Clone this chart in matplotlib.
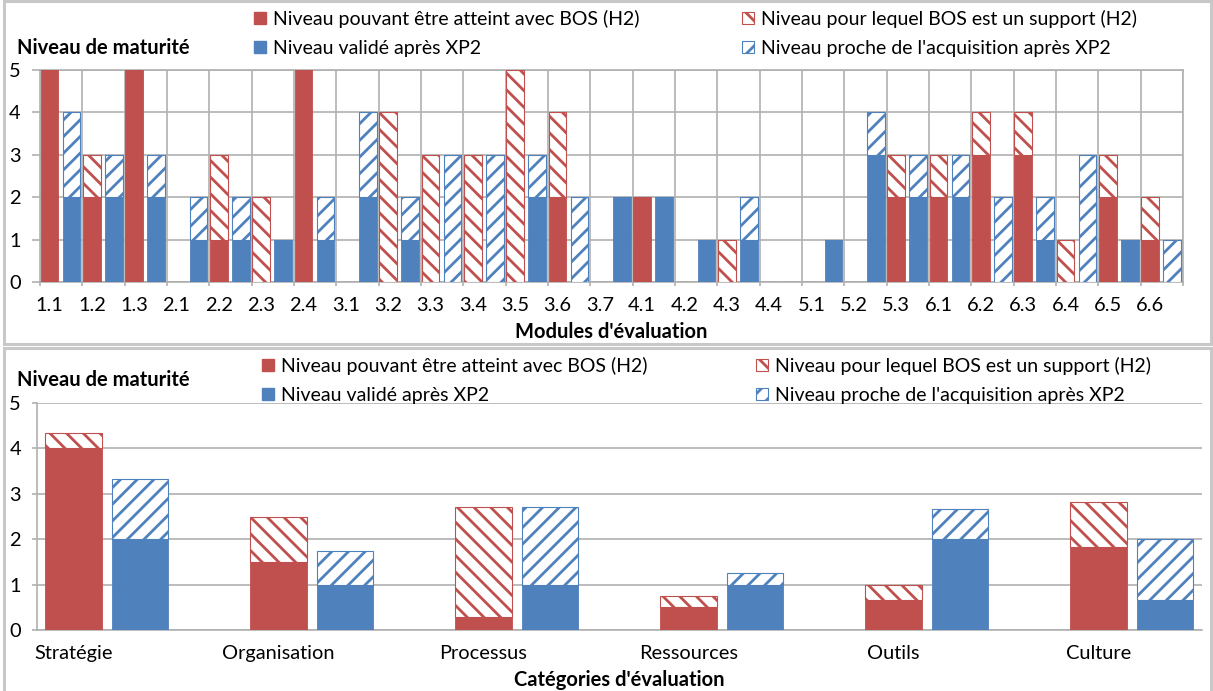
import matplotlib
matplotlib.use('Agg')
import matplotlib.pyplot as plt
from matplotlib.patches import Patch, Rectangle
import numpy as np

plt.rcParams['font.family'] = ['Lato', 'DejaVu Sans']
plt.rcParams['hatch.linewidth'] = 2.0

RED = '#C0504D'
BLUE = '#4F81BD'
GRID = '#B0B0B0'
FRAME = '#C8C8C8'

# ---------------- data: modules (top chart) ----------------
modules = ['1.1', '1.2', '1.3', '2.1', '2.2', '2.3', '2.4', '3.1', '3.2', '3.3',
           '3.4', '3.5', '3.6', '3.7', '4.1', '4.2', '4.3', '4.4', '5.1', '5.2',
           '5.3', '6.1', '6.2', '6.3', '6.4', '6.5', '6.6']
red_valid = [5, 2, 5, 0, 1, 0, 5, 0, 0, 0, 0, 0, 2, 0, 2, 0, 0, 0, 0, 0, 2, 2, 3, 3, 0, 2, 1]
red_support = [0, 1, 0, 0, 2, 2, 0, 0, 4, 3, 3, 5, 2, 0, 0, 0, 1, 0, 0, 0, 1, 1, 1, 1, 1, 1, 1]
blue_valid = [2, 2, 2, 1, 1, 1, 1, 2, 1, 0, 0, 2, 0, 2, 2, 1, 1, 0, 1, 3, 2, 2, 0, 1, 0, 1, 0]
blue_close = [2, 1, 1, 1, 1, 0, 1, 2, 1, 3, 3, 1, 2, 0, 0, 0, 1, 0, 0, 1, 1, 1, 2, 1, 3, 0, 1]

# ---------------- data: categories (bottom chart) ----------------
categories = ['Stratégie', 'Organisation', 'Processus', 'Ressources', 'Outils', 'Culture']
cat_red_valid = [4.0, 1.5, 0.29, 0.5, 0.67, 1.83]
cat_red_support = [0.33, 1.0, 2.42, 0.25, 0.33, 1.0]
cat_blue_valid = [2.0, 1.0, 1.0, 1.0, 2.0, 0.67]
cat_blue_close = [1.33, 0.75, 1.71, 0.25, 0.67, 1.33]

leg_red_valid = 'Niveau pouvant être atteint avec BOS (H2)'
leg_blue_valid = 'Niveau validé après XP2'
leg_red_support = 'Niveau pour lequel BOS est un support (H2)'
leg_blue_close = "Niveau proche de l'acquisition après XP2"

W, H = 1213, 691
fig = plt.figure(figsize=(W / 100, H / 100), dpi=100)


def px_axes(l, t, r, b):
    return fig.add_axes([l / W, 1 - b / H, (r - l) / W, (b - t) / H])


def fx(x):
    return x / W


def fy(y):
    return 1 - y / H


FS = 14.4
FSL = 14.0
FSB = 14.5

# frames
fig.add_artist(Rectangle((fx(3.5), fy(344.5)), fx(1211) - fx(3.5), fy(1.5) - fy(344.5),
                         transform=fig.transFigure, fill=False, ec=FRAME, lw=2.2))
fig.add_artist(Rectangle((fx(3.5), fy(693)), fx(1211) - fx(3.5), fy(347.5) - fy(693),
                         transform=fig.transFigure, fill=False, ec=FRAME, lw=2.2))


def draw_pair(ax, x, rv, rs, bv, bc, off, w):
    xr = np.asarray(x, dtype=float)
    xb = xr + off
    ax.bar(xr, rv, w, color=RED, edgecolor=RED, lw=0.6, zorder=3)
    ax.bar(xr, rs, w, bottom=rv, facecolor='white', edgecolor=RED, hatch='\\\\', lw=0.8, zorder=3)
    ax.bar(xb, bv, w, color=BLUE, edgecolor=BLUE, lw=0.6, zorder=3)
    ax.bar(xb, bc, w, bottom=bv, facecolor='white', edgecolor=BLUE, hatch='//', lw=0.8, zorder=3)


h_rv = Patch(facecolor=RED, edgecolor=RED)
h_bv = Patch(facecolor=BLUE, edgecolor=BLUE)
h_rs = Patch(facecolor='white', edgecolor=RED, hatch='\\\\', lw=0.8)
h_bc = Patch(facecolor='white', edgecolor=BLUE, hatch='//', lw=0.8)

LEGKW = dict(loc='upper left', frameon=False, fontsize=FSL,
             handlelength=0.6, handleheight=0.6, handletextpad=0.4, labelspacing=0.6,
             borderaxespad=0, borderpad=0.3)

# ---------------- top chart ----------------
ax1 = px_axes(40, 70, 1183, 282)
x1 = np.arange(len(modules))
draw_pair(ax1, x1, red_valid, red_support, blue_valid, blue_close, 0.52, 0.413)
ax1.set_xlim(-0.224, len(modules) - 0.224)
ax1.set_ylim(0, 5)
ax1.set_yticks(range(6))
ax1.set_xticks(x1)
ax1.set_xticklabels(modules, fontsize=FS)
ax1.set_xticks(np.arange(len(modules) + 1) - 0.224, minor=True)
ax1.tick_params(axis='x', which='major', length=0, pad=11)
ax1.tick_params(axis='x', which='minor', length=3, color=GRID, width=1.2)
ax1.tick_params(axis='y', length=6, color=GRID, width=1.2, labelsize=FS, pad=8)
ax1.grid(True, axis='y', color=GRID, lw=1.2, zorder=0)
ax1.grid(True, axis='x', which='minor', color=GRID, lw=1.2, zorder=0)
for s in ax1.spines.values():
    s.set_color(GRID)
    s.set_linewidth(1.2)
ax1.set_axisbelow(True)

fig.text(fx(17), fy(48), 'Niveau de maturité', fontsize=FSB, fontweight='bold', va='center', ha='left')
fig.text(fx(611), fy(332), "Modules d'évaluation", fontsize=FSB, fontweight='bold', va='center', ha='center')

fig.legend([h_rv, h_bv], [leg_red_valid, leg_blue_valid],
           bbox_to_anchor=(fx(248), fy(4)), **LEGKW)
fig.legend([h_rs, h_bc], [leg_red_support, leg_blue_close],
           bbox_to_anchor=(fx(736), fy(4)), **LEGKW)

# ---------------- bottom chart ----------------
ax2 = px_axes(37, 403, 1202, 630)
x2 = np.arange(len(categories))
draw_pair(ax2, x2, cat_red_valid, cat_red_support, cat_blue_valid, cat_blue_close, 0.324, 0.276)
ax2.set_xlim(-0.178, 5.505)
ax2.set_ylim(0, 5)
ax2.set_yticks(range(6))
ax2.set_xticks(x2)
ax2.set_xticklabels(categories, fontsize=FS)
ax2.tick_params(axis='x', length=0, pad=11)
ax2.tick_params(axis='y', length=3.6, color=GRID, width=1.2, labelsize=FS, pad=8)
ax2.grid(True, axis='y', color=GRID, lw=1.2, zorder=0)
ax2.set_axisbelow(True)
for k in ['top', 'right']:
    ax2.spines[k].set_visible(False)
for k in ['left', 'bottom']:
    ax2.spines[k].set_color(GRID)
    ax2.spines[k].set_linewidth(1.2)

fig.text(fx(17), fy(380), 'Niveau de maturité', fontsize=FSB, fontweight='bold', va='center', ha='left')
fig.text(fx(619), fy(680), "Catégories d'évaluation", fontsize=FSB, fontweight='bold', va='center', ha='center')

fig.legend([h_rv, h_bv], [leg_red_valid, leg_blue_valid],
           bbox_to_anchor=(fx(256), fy(351)), **LEGKW)
fig.legend([h_rs, h_bc], [leg_red_support, leg_blue_close],
           bbox_to_anchor=(fx(750), fy(351)), **LEGKW)

fig.savefig('out.png', dpi=100)
